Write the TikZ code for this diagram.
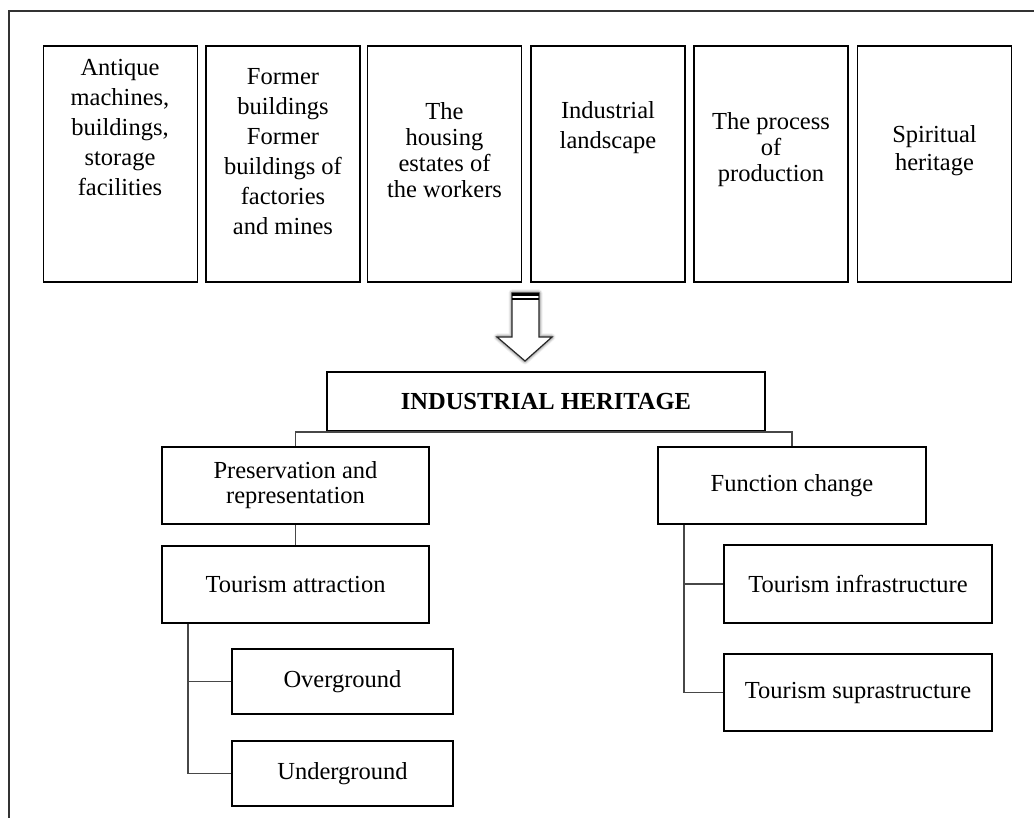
\documentclass[tikz,border=0pt]{standalone}
\usepackage{fontspec}
\setmainfont{Liberation Serif}
\begin{document}
\begin{tikzpicture}[x=1pt,y=-1pt,
  topbox/.style={draw=black, line width=1.6pt, minimum width=154pt, minimum height=236pt, inner sep=0pt},
  toptext/.style={align=center, inner sep=0pt, font=\fontsize{24.5}{#1}\selectfont},
  box/.style={draw=black, line width=1.6pt, inner sep=0pt, align=center, font=\fontsize{24.5}{25}\selectfont},
  link/.style={draw=black!72, line width=1.7pt},
  frame/.style={draw=black!80, line width=1.8pt}]
\useasboundingbox (0,0) rectangle (1034,818);
% outer frame (cropped)
\draw[frame] (9,818) -- (9,11) -- (1034,11);
% top boxes
\node[topbox] (b1) at (120.5,164) {};
\node[topbox] (b2) at (283,164) {};
\node[topbox] (b3) at (444.5,164) {};
\node[topbox] (b4) at (608,164) {};
\node[topbox] (b5) at (771,164) {};
\node[topbox] (b6) at (934.5,164) {};
\node[toptext=30] (t1) at (120,128) {Antique\\machines,\\buildings,\\storage\\facilities};
\node[toptext=30] (t2) at (283,152) {Former\\buildings\\Former\\buildings of\\factories\\and mines};
\node[toptext=26] (t3) at (444.5,150) {The\\housing\\estates of\\the workers};
\node[toptext=30] (t4) at (608,128) {Industrial\\landscape};
\node[toptext=26] (t5) at (771,150) {The process\\of\\production};
\node[toptext=28] (t6) at (934.5,151) {Spiritual\\heritage};
% block arrow
\foreach \w/\o in {7/0.06,5/0.1,3/0.15}{
  \draw[black, line width=\w pt, opacity=\o, line join=round]
    (512,293) -- (539,293) -- (539,337) -- (552,337) -- (525,361) -- (497,337) -- (512,337) -- cycle;
}
\draw[fill=white, draw=black!85, line width=1.2pt, line join=miter]
  (512,293) -- (539,293) -- (539,337) -- (552,337) -- (525,361) -- (497,337) -- (512,337) -- cycle;
\fill[black] (512,293) rectangle (539,296);
\fill[black] (512,298) rectangle (539,300);
% lower boxes
\node[box, minimum width=438pt, minimum height=59pt, font=\fontsize{24.5}{25}\selectfont\bfseries] (IH) at (546,401.5) {INDUSTRIAL HERITAGE};
\node[box, minimum width=267pt, minimum height=77pt] (PR) at (295.5,485.5) {Preservation and\\representation};
\node[box, minimum width=267pt, minimum height=77pt] (TA) at (295.5,584.5) {Tourism attraction};
\node[box, minimum width=221pt, minimum height=65pt] (OV) at (342.5,681.5) {Overground};
\node[box, minimum width=221pt, minimum height=65pt] (UN) at (342.5,773.5) {Underground};
\node[box, minimum width=268pt, minimum height=77pt] (FC) at (792,485.5) {Function change};
\node[box, minimum width=268pt, minimum height=78pt] (TI) at (858,584) {Tourism infrastructure};
\node[box, minimum width=268pt, minimum height=77pt] (TS) at (858,692.5) {Tourism suprastructure};
% connectors
\draw[link] (PR.north) |- (IH.south) -| (FC.north);
\draw[link] (PR.south) -- (TA.north);
\draw[link] ([xshift=27pt]TA.south west) |- (OV.west);
\draw[link] ([xshift=27pt]TA.south west) |- (UN.west);
\draw[link] ([xshift=27pt]FC.south west) |- (TI.west);
\draw[link] ([xshift=27pt]FC.south west) |- (TS.west);
\end{tikzpicture}
\end{document}
